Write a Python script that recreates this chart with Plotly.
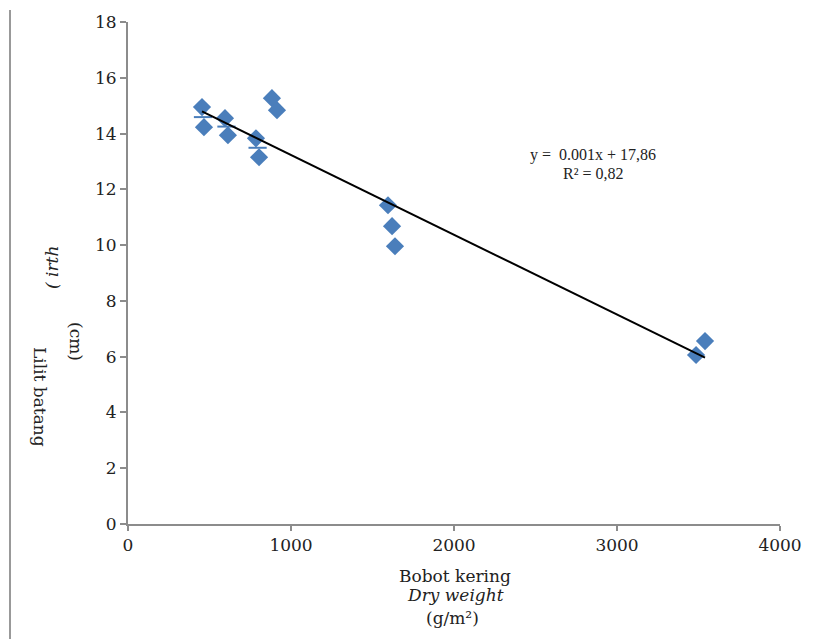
import numpy as np
import plotly.graph_objects as go

# Data
dry_weight = [454, 466, 595, 613, 785, 804, 883, 914, 1595, 1620, 1638, 3485, 3540]
girth = [14.95, 14.23, 14.55, 13.94, 13.83, 13.15, 15.27, 14.84, 11.43, 10.68, 9.96, 6.06, 6.56]

mean_x = [460, 604, 795]
mean_y = [14.59, 14.25, 13.49]

x_ticks = [0, 1000, 2000, 3000, 4000]
y_ticks = [0, 2, 4, 6, 8, 10, 12, 14, 16, 18]

eq_text = "y =  0.001x + 17,86"
r2_text = "R² = 0,82"

FONT = "DejaVu Serif"
BLUE = "#4a7ebb"
AXIS = "#8c8c8c"

# page body has an 8px margin in the browser; compensate
OFF = 8
L, T, PW, PH = 128 - OFF, 22 - OFF, 652, 502

slope, intercept = np.polyfit(dry_weight, girth, 1)
tx = np.array([min(dry_weight), max(dry_weight)])
ty = slope * tx + intercept

fig = go.Figure()
fig.add_trace(go.Scatter(
    x=dry_weight, y=girth, mode="markers",
    marker=dict(symbol="diamond", size=14, color=BLUE),
    showlegend=False, hoverinfo="skip"))
fig.add_trace(go.Scatter(
    x=mean_x, y=mean_y, mode="markers",
    marker=dict(symbol="line-ew", size=13, color=BLUE, line=dict(color=BLUE, width=2)),
    showlegend=False, hoverinfo="skip"))
fig.add_trace(go.Scatter(
    x=tx, y=ty, mode="lines", line=dict(color="black", width=2),
    showlegend=False, hoverinfo="skip"))

fig.update_layout(
    width=815 - OFF, height=639 - OFF,
    margin=dict(l=L, r=35, t=T, b=115, autoexpand=False),
    plot_bgcolor="white", paper_bgcolor="white",
    font=dict(family=FONT, size=14, color="#222"),
    xaxis=dict(range=[0, 4000], tickvals=x_ticks, showgrid=False, zeroline=False,
               showline=True, linecolor=AXIS, linewidth=2,
               ticks="outside", ticklen=5, tickwidth=2, tickcolor=AXIS,
               tickfont=dict(family=FONT, size=17, color="#222")),
    yaxis=dict(range=[0, 18], tickvals=y_ticks, showgrid=False, zeroline=False,
               showline=True, linecolor=AXIS, linewidth=2,
               ticks="outside", ticklen=6, tickwidth=2, tickcolor=AXIS,
               tickfont=dict(family=FONT, size=17, color="#222")),
    shapes=[dict(type="line", xref="paper", yref="paper",
                 x0=-118 / PW, x1=-118 / PW, y0=-125 / PH, y1=1 + 12 / PH,
                 line=dict(color="#999999", width=2))],
)


def px(xp, yp):
    return (xp - 128) / PW, (524 - yp) / PH


ann = [
    dict(text=eq_text, x=593, y=155, size=16, font="Liberation Serif"),
    dict(text=r2_text, x=593, y=174, size=16, font="Liberation Serif"),
    dict(text="Bobot kering", x=455, y=576, size=17),
    dict(text="<i>Dry weight</i>", x=455, y=595, size=17),
    dict(text="(g/m²)", x=452, y=618, size=17),
]
for a in ann:
    ax, ay = px(a["x"], a["y"])
    fig.add_annotation(
        text=a["text"], xref="paper", yref="paper", x=ax, y=ay,
        showarrow=False, xanchor="center", yanchor="middle",
        font=dict(family=a.get("font", FONT), size=a["size"], color="#222"))

yann = [
    dict(text="Lilit batang", x=40, y=397, angle=90),
    dict(text="(cm)", x=76, y=341, angle=90),
    dict(text="<i>( irth</i>", x=52, y=268, angle=-90),
]
for a in yann:
    ax, ay = px(a["x"], a["y"])
    fig.add_annotation(
        text=a["text"], xref="paper", yref="paper", x=ax, y=ay,
        showarrow=False, xanchor="center", yanchor="middle", textangle=a["angle"],
        font=dict(family=FONT, size=17, color="#222"))

fig.write_html("out.html")
